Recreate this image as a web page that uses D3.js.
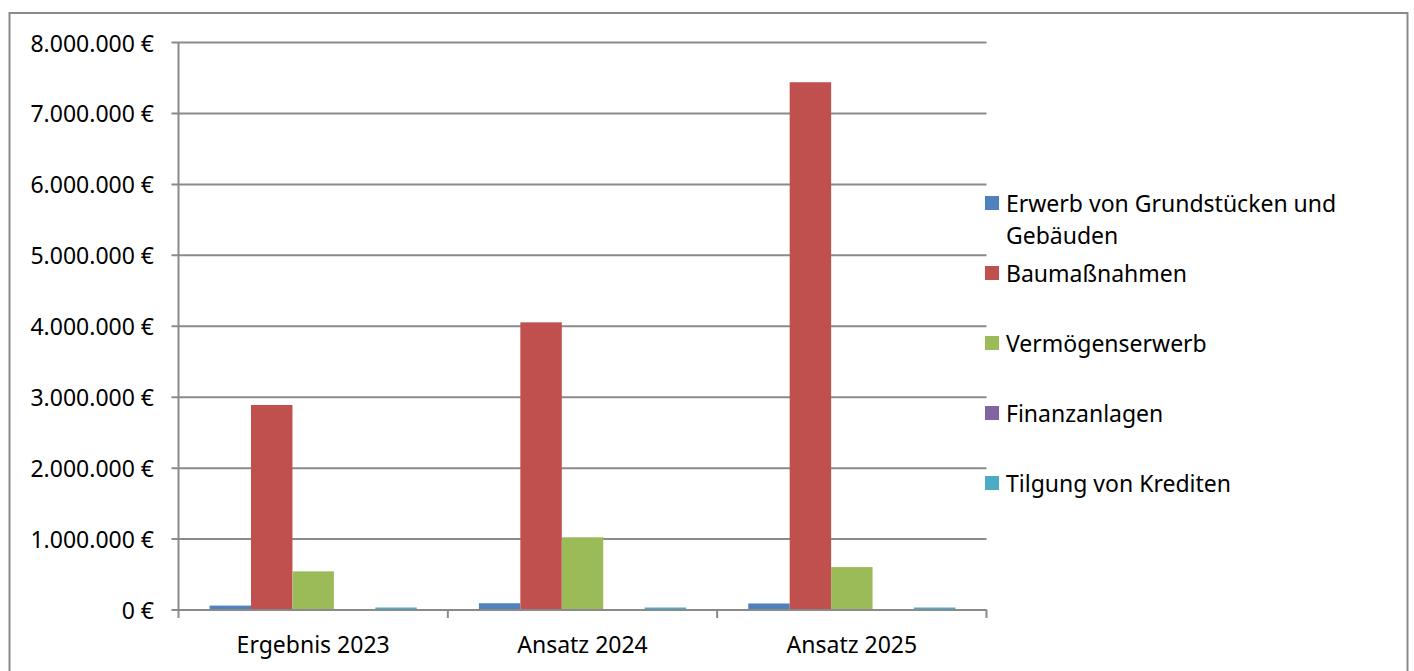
<!DOCTYPE html>
<html>
<head>
<meta charset="utf-8">
<script src="https://cdn.jsdelivr.net/npm/d3@7"></script>
<style>
  html, body { margin: 0; padding: 0; background: #fff; }
  text { font-family: "Noto Sans", sans-serif; fill: #000; }
</style>
</head>
<body>
<svg id="chart" width="1414" height="671"></svg>
<script>
const categories = ["Ergebnis 2023", "Ansatz 2024", "Ansatz 2025"];
const seriesNames = ["Erwerb von Grundstücken und Gebäuden", "Baumaßnahmen", "Vermögenserwerb", "Finanzanlagen", "Tilgung von Krediten"];
const grundstuecke = [62000, 95000, 92000];
const baumassnahmen = [2890000, 4055000, 7440000];
const vermoegenserwerb = [545000, 1025000, 605000];
const finanzanlagen = [0, 0, 0];
const tilgung = [35000, 35000, 35000];
const yTicks = [0, 1000000, 2000000, 3000000, 4000000, 5000000, 6000000, 7000000, 8000000];
const colors = ["#4F81BD", "#C0504D", "#9BBB59", "#8064A2", "#4BACC6"];

const seriesValues = [grundstuecke, baumassnahmen, vermoegenserwerb, finanzanlagen, tilgung];

const svg = d3.select("#chart");
const gridColor = "#8a8a8a";
const fontSize = 23;

// outer frame
svg.append("rect")
  .attr("x", 9.5).attr("y", 13)
  .attr("width", 1398).attr("height", 700)
  .attr("fill", "none").attr("stroke", gridColor).attr("stroke-width", 2);

const plotLeft = 178.5, plotRight = 986.5, plotTop = 42.5, plotBottom = 610;

const y = d3.scaleLinear().domain([0, 8000000]).range([plotBottom, plotTop]);
const x0 = d3.scaleBand().domain(categories).range([plotLeft, plotRight]).padding(0);
const x1 = d3.scaleBand().domain(seriesNames).range([0, x0.bandwidth()])
  .paddingInner(0).paddingOuter(0.75);

const locale = d3.formatLocale({ decimal: ",", thousands: ".", grouping: [3], currency: ["", " €"] });
const fmt = locale.format("$,.0f");

// gridlines
svg.append("g").selectAll("line").data(yTicks).join("line")
  .attr("x1", plotLeft - 7).attr("x2", plotRight)
  .attr("y1", d => y(d)).attr("y2", d => y(d))
  .attr("stroke", gridColor).attr("stroke-width", 2);

// y axis line
svg.append("line")
  .attr("x1", plotLeft).attr("x2", plotLeft)
  .attr("y1", plotTop).attr("y2", plotBottom)
  .attr("stroke", gridColor).attr("stroke-width", 2);

// y labels
svg.append("g").selectAll("text").data(yTicks).join("text")
  .attr("x", 154).attr("y", d => y(d))
  .attr("text-anchor", "end").attr("dominant-baseline", "central")
  .attr("font-size", fontSize)
  .text(d => fmt(d));

// bars
const groups = svg.append("g").selectAll("g").data(categories).join("g")
  .attr("transform", d => `translate(${x0(d)},0)`);
groups.selectAll("rect")
  .data((c, ci) => seriesNames.map((s, si) => ({ s, si, v: seriesValues[si][ci] })))
  .join("rect")
  .attr("x", d => x1(d.s))
  .attr("width", x1.bandwidth())
  .attr("y", d => y(d.v))
  .attr("height", d => y(0) - y(d.v))
  .attr("fill", d => colors[d.si]);

// x axis line + ticks
svg.append("line")
  .attr("x1", plotLeft).attr("x2", plotRight)
  .attr("y1", plotBottom).attr("y2", plotBottom)
  .attr("stroke", gridColor).attr("stroke-width", 2);
const tickXs = categories.map(c => x0(c)).concat([x0(categories[categories.length - 1]) + x0.bandwidth()]);
svg.append("g").selectAll("line").data(tickXs).join("line")
  .attr("x1", d => d).attr("x2", d => d)
  .attr("y1", plotBottom).attr("y2", plotBottom + 8)
  .attr("stroke", gridColor).attr("stroke-width", 2);

// x labels
svg.append("g").selectAll("text").data(categories).join("text")
  .attr("x", d => x0(d) + x0.bandwidth() / 2)
  .attr("y", 653)
  .attr("text-anchor", "middle")
  .attr("font-size", fontSize)
  .text(d => d);

// legend
const legendY = [203, 273, 343, 413, 483];
const legend = svg.append("g").selectAll("g").data(seriesNames).join("g")
  .attr("transform", (d, i) => `translate(985,${legendY[i]})`);
legend.append("rect")
  .attr("x", 0).attr("y", -7).attr("width", 14).attr("height", 14)
  .attr("fill", (d, i) => colors[i]);
legend.append("text")
  .attr("x", 21).attr("y", 0)
  .attr("dominant-baseline", "central")
  .attr("font-size", fontSize)
  .each(function (d) {
    const t = d3.select(this);
    const lines = d === seriesNames[0] ? ["Erwerb von Grundstücken und", "Gebäuden"] : [d];
    lines.forEach((ln, k) => {
      t.append("tspan").attr("x", 21).attr("dy", k === 0 ? 0 : 32).text(ln);
    });
  });
</script>
</body>
</html>
